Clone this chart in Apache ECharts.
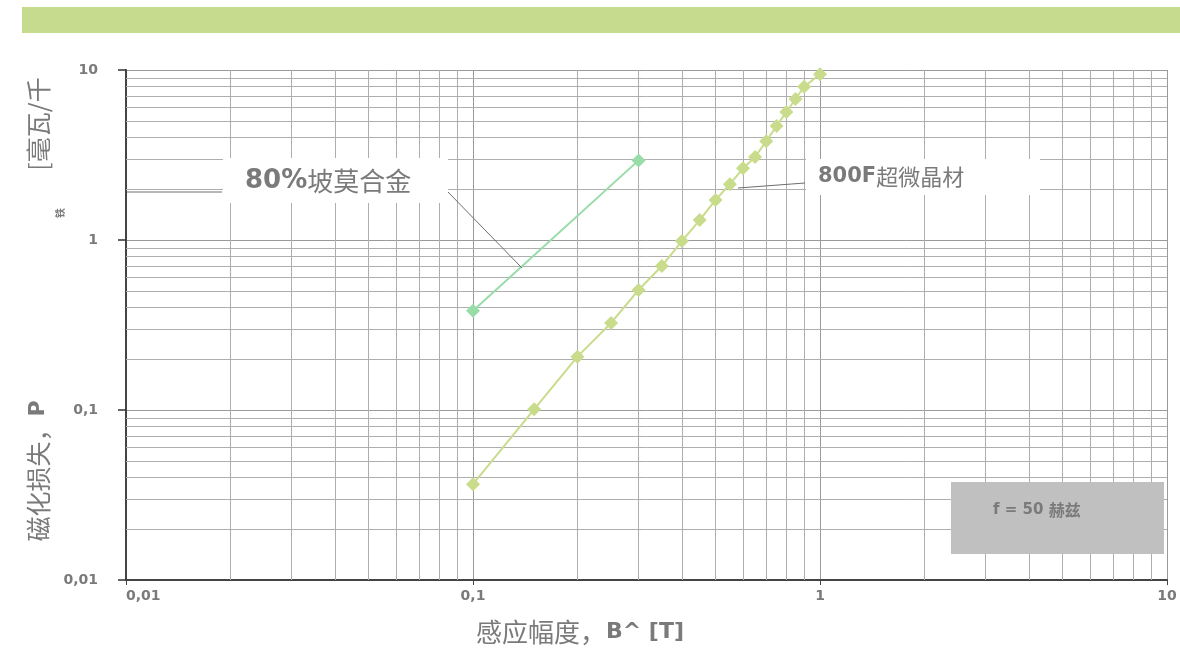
<!DOCTYPE html>
<html>
<head>
<meta charset="utf-8">
<script src="https://cdn.jsdelivr.net/npm/echarts@6/dist/echarts.min.js"></script>
<style>
  html, body { margin: 0; padding: 0; background: #ffffff; }
  #chart { width: 1180px; height: 648px; }
</style>
</head>
<body>
<div id="chart"></div>
<script>
// 800F nanocrystalline material: induction amplitude (T) vs. core loss
const nanoInduction = [0.1, 0.15, 0.2, 0.25, 0.3, 0.35, 0.4, 0.45, 0.5, 0.55, 0.6, 0.65, 0.7, 0.75, 0.8, 0.85, 0.9, 1.0];
const nanoLoss      = [0.0366, 0.101, 0.206, 0.325, 0.508, 0.703, 0.986, 1.31, 1.72, 2.13, 2.64, 3.08, 3.81, 4.69, 5.66, 6.75, 7.97, 9.44];

// 80% permalloy
const permInduction = [0.1, 0.3];
const permLoss      = [0.384, 2.94];

// Decade ticks and their printed labels (decimal comma)
const tickValues = [0.01, 0.1, 1, 10];
const tickLabels = ['0,01', '0,1', '1', '10'];

// Intermediate log-grid lines inside each decade
const decadeStarts = [0.01, 0.1, 1];
const minorSteps = [2, 3, 4, 5, 6, 7, 8, 9];

const seriesNames = ['80%坡莫合金', '800F超微晶材'];

const minorValues = [];
decadeStarts.forEach(d => minorSteps.forEach(m => minorValues.push(+(d * m).toPrecision(6))));

const labelText = v => {
  const i = tickValues.findIndex(t => Math.abs(t - v) / t < 1e-6);
  return i >= 0 ? tickLabels[i] : '';
};

const GREY = '#7a7a7a';
const LATIN = "'DejaVu Sans', 'Noto Sans', sans-serif";
const CJK = "'Noto Sans CJK SC', 'Noto Sans', sans-serif";

const axisLabelStyle = {
  color: GREY, fontFamily: LATIN, fontWeight: 'bold', fontSize: 14,
  formatter: labelText
};

const chart = echarts.init(document.getElementById('chart'), null, { renderer: 'canvas' });

chart.setOption({
  animation: false,
  backgroundColor: '#ffffff',
  grid: { left: 126, right: 13, top: 70, bottom: 68, containLabel: false },
  xAxis: {
    type: 'log', logBase: 10, min: 0.01, max: 10,
    axisLine: { show: true, lineStyle: { color: '#444', width: 2 } },
    axisTick: { show: true, length: 5, lineStyle: { color: '#444' } },
    axisLabel: Object.assign({ margin: 9, alignMinLabel: 'left', alignMaxLabel: 'center' }, axisLabelStyle),
    splitLine: { show: true, lineStyle: { color: '#9a9a9a', width: 1 } },
    minorTick: { show: false }, minorSplitLine: { show: false }
  },
  yAxis: {
    type: 'log', logBase: 10, min: 0.01, max: 10,
    axisLine: { show: true, lineStyle: { color: '#444', width: 2 } },
    axisTick: { show: true, length: 8, lineStyle: { color: '#333', width: 1.5 } },
    axisLabel: Object.assign({ margin: 28 }, axisLabelStyle),
    splitLine: { show: true, lineStyle: { color: '#9a9a9a', width: 1 } },
    minorTick: { show: false }, minorSplitLine: { show: false }
  },
  series: [
    {
      name: 'grid',
      type: 'line',
      data: [],
      silent: true,
      z: 1,
      markLine: {
        silent: true,
        symbol: ['none', 'none'],
        label: { show: false },
        lineStyle: { color: '#aeaeae', width: 1, type: 'solid' },
        emphasis: { disabled: true },
        data: minorValues.map(v => ({ xAxis: v })).concat(minorValues.map(v => ({ yAxis: v })))
      }
    },
    {
      name: seriesNames[0],
      type: 'line',
      z: 5,
      data: permInduction.map((x, i) => [x, permLoss[i]]),
      symbol: 'diamond', symbolSize: 14,
      lineStyle: { color: '#98dca8', width: 2 },
      itemStyle: { color: '#98dca8' }
    },
    {
      name: seriesNames[1],
      type: 'line',
      z: 5,
      data: nanoInduction.map((x, i) => [x, nanoLoss[i]]),
      symbol: 'diamond', symbolSize: 14,
      lineStyle: { color: '#c8dc8c', width: 2 },
      itemStyle: { color: '#c8dc8c' }
    }
  ],
  graphic: [
    // header band
    { type: 'rect', z: 10, shape: { x: 22, y: 7, width: 1158, height: 26 }, style: { fill: '#c6db8e' } },

    // y axis title (reads bottom to top)
    {
      type: 'text', z: 10, x: 38, y: 471, rotation: Math.PI / 2,
      style: {
        text: '{a|磁化损失，}{b|P}',
        align: 'center', verticalAlign: 'middle',
        rich: {
          a: { fontFamily: CJK, fontSize: 25, fill: GREY },
          b: { fontFamily: LATIN, fontSize: 22, fontWeight: 'bold', fill: GREY }
        }
      }
    },
    {
      type: 'text', z: 10, x: 38, y: 124, rotation: Math.PI / 2,
      style: {
        text: '[毫瓦/千', align: 'center', verticalAlign: 'middle',
        fontFamily: CJK, fontSize: 25, fill: GREY
      }
    },
    {
      type: 'text', z: 10, x: 60, y: 213, rotation: Math.PI / 2,
      style: {
        text: '铁', align: 'center', verticalAlign: 'middle',
        fontFamily: CJK, fontSize: 10, fontWeight: 'bold', fill: GREY
      }
    },

    // x axis title
    {
      type: 'text', z: 10, x: 580, y: 632,
      style: {
        text: '{a|感应幅度，}{b|B^ [T]}',
        align: 'center', verticalAlign: 'middle',
        rich: {
          a: { fontFamily: CJK, fontSize: 26, fill: GREY },
          b: { fontFamily: LATIN, fontSize: 22, fontWeight: 'bold', fill: GREY }
        }
      }
    },

    // 80% permalloy callout
    { type: 'rect', z: 8, shape: { x: 223, y: 158, width: 225, height: 45 }, style: { fill: '#ffffff' } },
    { type: 'line', z: 9, shape: { x1: 127, y1: 192, x2: 222, y2: 192 }, style: { stroke: '#6e6e6e', lineWidth: 1 } },
    { type: 'line', z: 9, shape: { x1: 448, y1: 192, x2: 522, y2: 268 }, style: { stroke: '#6e6e6e', lineWidth: 1 } },
    {
      type: 'text', z: 10, x: 245, y: 181,
      style: {
        text: '{a|80%}{b|坡莫合金}', align: 'left', verticalAlign: 'middle',
        rich: {
          a: { fontFamily: LATIN, fontSize: 26, fontWeight: 'bold', fill: GREY },
          b: { fontFamily: CJK, fontSize: 26, fill: GREY }
        }
      }
    },

    // 800F nanocrystalline callout
    { type: 'rect', z: 8, shape: { x: 806, y: 159, width: 234, height: 36 }, style: { fill: '#ffffff' } },
    { type: 'line', z: 9, shape: { x1: 738, y1: 188, x2: 805, y2: 183 }, style: { stroke: '#6e6e6e', lineWidth: 1 } },
    {
      type: 'text', z: 10, x: 818, y: 177,
      style: {
        text: '{a|800F}{b|超微晶材}', align: 'left', verticalAlign: 'middle',
        rich: {
          a: { fontFamily: LATIN, fontSize: 21, fontWeight: 'bold', fill: GREY },
          b: { fontFamily: CJK, fontSize: 22, fill: GREY }
        }
      }
    },

    // frequency note
    { type: 'rect', z: 8, shape: { x: 951, y: 482, width: 213, height: 72 }, style: { fill: '#c0c0c0' } },
    {
      type: 'text', z: 10, x: 993, y: 510,
      style: {
        text: '{a|f = 50 }{b|赫兹}', align: 'left', verticalAlign: 'middle',
        rich: {
          a: { fontFamily: LATIN, fontSize: 15, fontWeight: 'bold', fill: GREY },
          b: { fontFamily: CJK, fontSize: 16, fontWeight: 'bold', fill: GREY }
        }
      }
    }
  ]
});
</script>
</body>
</html>
